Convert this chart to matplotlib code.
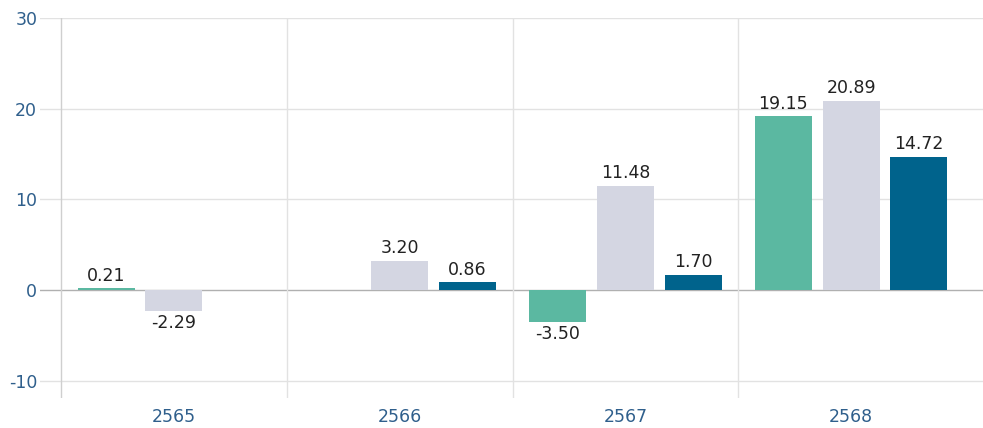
import matplotlib
matplotlib.use("Agg")
import matplotlib.pyplot as plt
import numpy as np

years = ["2565", "2566", "2567", "2568"]
series_a = [0.21, None, -3.50, 19.15]
series_b = [-2.29, 3.20, 11.48, 20.89]
series_c = [None, 0.86, 1.70, 14.72]
yticks = [-10, 0, 10, 20, 30]

colors = ["#5bb8a1", "#d4d6e2", "#00638c"]
tick_color = "#2f5f8c"

fig = plt.figure(figsize=(9.83, 4.28), dpi=100)
ax = fig.add_axes([40 / 983, 30 / 428, 943 / 983, 380 / 428])

x = np.arange(len(years))
width = 0.253
offsets = [-0.3, 0.0, 0.3]

for vals, off, col in zip([series_a, series_b, series_c], offsets, colors):
    for xi, v in zip(x, vals):
        if v is None:
            continue
        ax.bar(xi + off, v, width, color=col, zorder=3)
        if v >= 0:
            ax.text(xi + off, v + 0.4, f"{v:.2f}", ha="center", va="bottom",
                    fontsize=12.5, color="#222222", zorder=4)
        else:
            ax.text(xi + off, v - 0.4, f"{v:.2f}", ha="center", va="top",
                    fontsize=12.5, color="#222222", zorder=4)

ax.set_ylim(-11.9, 30)
ax.set_xlim(-0.5 - 21 / 225.5, 3.5 + 19 / 225.5)

# horizontal grid across the whole axes
for y in yticks:
    ax.axhline(y, color="#b0b0b0" if y == 0 else "#e2e2e2", linewidth=1.0, zorder=1)

# category separators
for b in np.arange(-0.5, len(years) - 0.5, 1.0):
    ax.axvline(b, color="#cfcfcf" if b < 0 else "#e2e2e2", linewidth=1.0, zorder=1)

for s in ax.spines.values():
    s.set_visible(False)

ax.set_yticks(yticks)
ax.set_yticklabels([str(t) for t in yticks])
ax.set_xticks(x)
ax.set_xticklabels(years)
ax.tick_params(axis="y", length=0, pad=2, labelsize=12.5, labelcolor=tick_color)
ax.tick_params(axis="x", length=0, pad=7, labelsize=12.5, labelcolor=tick_color)

fig.savefig("out.png", dpi=100)
